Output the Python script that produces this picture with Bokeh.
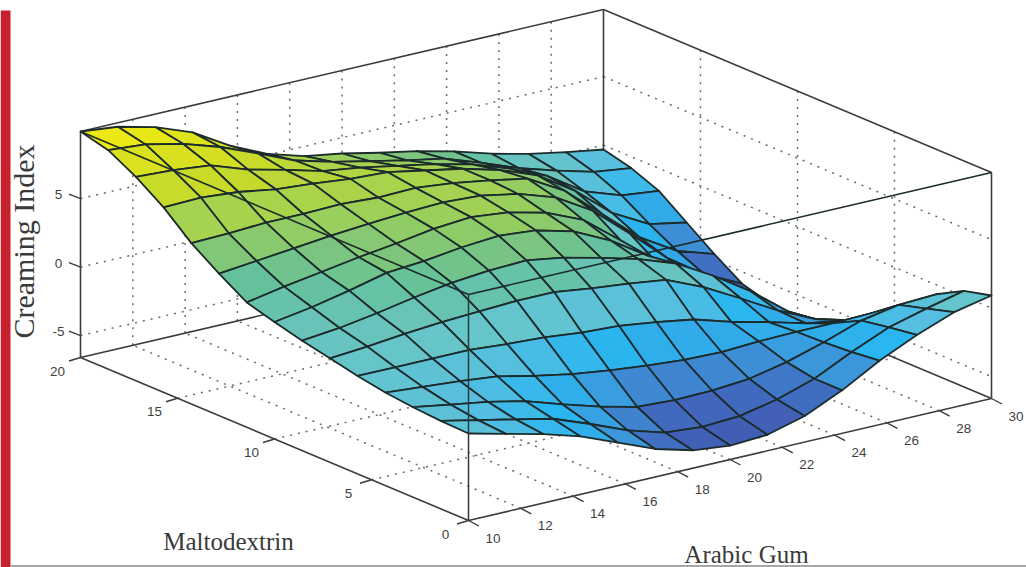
import numpy as np
from bokeh.plotting import figure
from bokeh.embed import file_html
from bokeh.resources import INLINE
from bokeh.models import Range1d
from bokeh.core.properties import value

# ---- chart data ----
maltodextrin = np.linspace(0, 20, 15)
arabic_gum = np.linspace(10, 30, 15)
malt_ticks = [0, 5, 10, 15, 20]
gum_ticks = [10, 12, 14, 16, 18, 20, 22, 24, 26, 28, 30]
z_ticks = [-5, 0, 5]
z_limits = [-6.6, 9.9]

# creaming index, one list per maltodextrin level, along arabic gum
z_m00 = [-0.25, -0.91, -1.56, -2.37, -3.46, -4.56, -5.29, -5.58, -5.43, -4.70, -3.46, -1.93, -0.69, 0.34, 0.92]
z_m01 = [-0.18, -0.76, -1.34, -1.93, -2.95, -4.05, -4.85, -5.07, -4.92, -4.34, -3.46, -2.15, -0.98, -0.25, 0.41]
z_m02 = [-0.03, -0.47, -0.91, -1.49, -2.37, -3.17, -3.83, -3.97, -3.90, -3.68, -3.10, -2.29, -1.34, -0.83, -0.69]
z_m03 = [0.19, -0.03, -0.25, -0.54, -1.13, -1.64, -2.00, -2.29, -2.51, -2.59, -2.44, -2.37, -2.37, -2.29, -2.22]
z_m04 = [0.55, 0.55, 0.55, 0.55, 0.34, 0.19, -0.10, -0.25, -0.61, -1.05, -1.86, -2.51, -3.24, -3.68, -3.83]
z_m05 = [0.99, 1.21, 1.50, 1.72, 1.87, 2.01, 2.01, 1.65, 1.36, 0.99, -0.18, -1.64, -3.17, -4.41, -5.14]
z_m06 = [1.43, 1.72, 2.16, 2.67, 3.11, 3.36, 3.47, 3.04, 2.38, 1.65, 0.70, -0.83, -2.59, -4.70, -6.16]
z_m07 = [1.94, 2.38, 2.96, 3.62, 3.84, 4.20, 4.42, 4.17, 3.47, 2.16, 0.41, -1.64, -3.39, -5.14, -6.60]
z_m08 = [2.52, 3.04, 3.47, 3.91, 4.28, 4.71, 4.93, 4.64, 3.98, 2.82, 0.70, -1.64, -3.83, -5.50, -6.45]
z_m09 = [3.77, 4.06, 4.35, 4.64, 4.86, 5.04, 5.15, 5.01, 4.50, 3.62, 2.01, -0.32, -2.73, -4.56, -5.87]
z_m10 = [5.15, 5.23, 5.37, 5.37, 5.45, 5.30, 5.37, 5.08, 4.64, 4.13, 2.60, 0.26, -2.07, -3.68, -4.56]
z_m11 = [6.91, 6.98, 6.76, 6.32, 6.10, 5.81, 5.66, 5.15, 4.64, 3.91, 2.89, 1.14, -1.13, -2.59, -3.10]
z_m12 = [8.29, 8.15, 7.85, 6.91, 6.25, 5.52, 5.15, 4.64, 4.13, 3.47, 2.52, 1.36, -0.40, -1.34, -1.64]
z_m13 = [9.39, 9.17, 8.58, 7.71, 6.61, 5.45, 4.71, 4.13, 3.55, 3.04, 2.09, 1.07, 0.26, -0.47, -0.83]
z_m14 = [9.90, 9.61, 8.95, 7.93, 6.32, 5.08, 4.28, 3.84, 3.26, 2.74, 2.09, 1.28, 0.63, 0.12, -0.32]

Z = np.array([z_m00, z_m01, z_m02, z_m03, z_m04, z_m05, z_m06, z_m07,
              z_m08, z_m09, z_m10, z_m11, z_m12, z_m13, z_m14])

# colour ramp: (z, r, g, b)
ramp = np.array([
    (-6.60, 62, 85, 170), (-5.29, 65, 97, 183), (-4.56, 65, 112, 195), (-3.46, 60, 150, 218),
    (-2.59, 50, 170, 232), (-1.93, 42, 182, 240), (-0.69, 85, 190, 225), (0.34, 100, 197, 205),
    (1.43, 105, 195, 185), (2.53, 100, 193, 155), (3.77, 130, 198, 120), (4.35, 145, 205, 100),
    (5.15, 165, 210, 80), (6.91, 200, 218, 42), (8.29, 218, 225, 30), (9.39, 235, 232, 20),
    (9.97, 238, 234, 18)])

def colour(z):
    return "#%02x%02x%02x" % tuple(int(round(np.interp(z, ramp[:, 0], ramp[:, k]))) for k in (1, 2, 3))

# ---- oblique projection of the 3-D box onto the page ----
FRONT = np.array([468.0, 520.0])
LEFT = np.array([80.0, 357.0])
RIGHT = np.array([991.0, 398.0])
BOX_H = 226.0

def proj(malt, gum, z):
    u = np.asarray(malt, float) / 20.0
    v = (np.asarray(gum, float) - 10.0) / 20.0
    w = (np.asarray(z, float) - z_limits[0]) / (z_limits[1] - z_limits[0])
    x = FRONT[0] + u * (LEFT[0] - FRONT[0]) + v * (RIGHT[0] - FRONT[0])
    y = FRONT[1] + u * (LEFT[1] - FRONT[1]) + v * (RIGHT[1] - FRONT[1]) - w * BOX_H
    return x, y

p = figure(width=1026, height=567, output_backend="svg", toolbar_location=None,
           x_range=Range1d(0, 1026), y_range=Range1d(567, 0), min_border=0,
           x_axis_type=None, y_axis_type=None, margin=(0, 0, 0, 0))
p.grid.visible = False
p.outline_line_color = None
p.background_fill_color = "white"
p.border_fill_color = "white"

AX = "#3c3c3c"
DOT = "#6a6a6a"
zlo, zhi = z_limits

def seg(a, b, **kw):
    x, y = proj([a[0], b[0]], [a[1], b[1]], [a[2], b[2]])
    p.line(x, y, **kw)

dot = dict(line_color=DOT, line_width=1.5, line_dash="2 6")
box = dict(line_color=AX, line_width=1.6)

# dotted grid on floor and back walls
for g in gum_ticks[1:-1]:
    seg((0, g, zlo), (20, g, zlo), **dot)
    seg((20, g, zlo), (20, g, zhi), **dot)
for m in malt_ticks[1:-1]:
    seg((m, 10, zlo), (m, 30, zlo), **dot)
    seg((m, 30, zlo), (m, 30, zhi), **dot)
for z in z_ticks:
    seg((20, 10, z), (20, 30, z), **dot)
    seg((20, 30, z), (0, 30, z), **dot)

# back edges of the box
seg((20, 10, zlo), (20, 30, zlo), **box)
seg((0, 30, zlo), (20, 30, zlo), **box)
seg((20, 30, zlo), (20, 30, zhi), **box)
seg((20, 10, zhi), (20, 30, zhi), **box)
seg((0, 30, zhi), (20, 30, zhi), **box)
seg((20, 10, zlo), (20, 10, zhi), **box)
seg((0, 30, zlo), (0, 30, zhi), **box)
seg((0, 10, zlo), (20, 10, zlo), **box)
seg((0, 10, zlo), (0, 30, zlo), **box)

# surface, painted from the far corner to the near one; each facet takes the colour of its nearest vertex
xs, ys, cols = [], [], []
for i in range(13, -1, -1):
    for j in range(13, -1, -1):
        ii = [i, i + 1, i + 1, i]
        jj = [j, j, j + 1, j + 1]
        qx, qy = proj(maltodextrin[ii], arabic_gum[jj], Z[ii, jj])
        xs.append(list(qx))
        ys.append(list(qy))
        cols.append(colour(Z[i, j]))
p.patches(xs, ys, fill_color=cols, line_color="#1c2b2c", line_width=1.8, line_join="round")

# front edges, on top of the surface
seg((0, 10, zlo), (0, 10, zhi), line_color="#2a3a3a", line_width=1.5)
seg((20, 10, zhi), (0, 10, zhi), line_color="#1c2b2c", line_width=1.6)
seg((0, 10, zhi), (0, 30, zhi), line_color="#1c2b2c", line_width=1.6)

# ticks and tick labels
tick = dict(line_color=AX, line_width=1.4)
lab = dict(text_font=value("Liberation Sans"), text_font_size="13.5px", text_color="#3f3f3f",
           text_align="center", text_baseline="middle")
for m in malt_ticks:
    x, y = proj(m, 10, zlo)
    p.line([x, x - 11.5], [y, y + 3.5], **tick)
    p.text([x - 23], [y + 13.5], text=[str(m)], **lab)
for g in gum_ticks:
    x, y = proj(0, g, zlo)
    p.line([x, x + 10.5], [y, y + 5.5], **tick)
    p.text([x + 24.5], [y + 17.5], text=[str(g)], **lab)
for z in z_ticks:
    x, y = proj(20, 10, z)
    p.line([x, x - 11.5], [y, y - 4.5], **tick)
    p.text([x - 22], [y - 4], text=[str(z)], **lab)

# axis titles
title = dict(text_font=value("Liberation Serif"), text_color="#3a3a3a",
             text_align="center", text_baseline="middle")
p.text([23], [241], text=["Creaming Index"], angle=[np.pi / 2], text_font_size="30px", **title)
p.text([228], [541], text=["Maltodextrin"], text_font_size="25px", **title)
p.text([746], [554], text=["Arabic Gum"], text_font_size="25px", **title)

# publisher's side bar and bottom rule
p.quad(left=[0], right=[10], top=[10], bottom=[567], fill_color="#c5202b", line_color=None)
p.line([10, 1026], [565.5, 565.5], line_color="#8a8a8a", line_width=1.5)

open("out.html", "w").write(file_html(p, INLINE))
